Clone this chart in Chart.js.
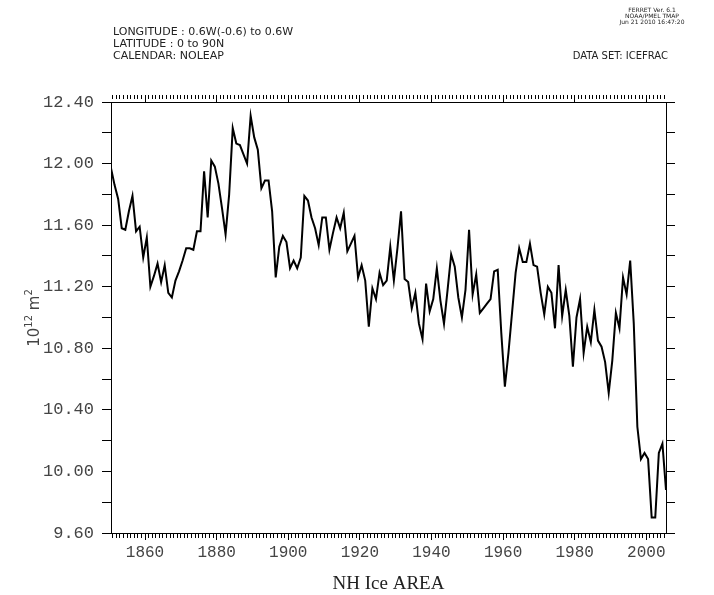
<!DOCTYPE html>
<html><head><meta charset="utf-8">
<script src="https://cdn.jsdelivr.net/npm/chart.js@4.4.0/dist/chart.umd.min.js"></script>
<style>html,body{margin:0;padding:0;background:#fff;}#wrap{width:714px;height:595px;}</style>
</head><body><div id="wrap"><canvas id="c" width="714" height="595"></canvas></div>
<script>
const years = [
1850,1851,1852,1853,1854,1855,1856,1857,1858,1859,
1860,1861,1862,1863,1864,1865,1866,1867,1868,1869,
1870,1871,1872,1873,1874,1875,1876,1877,1878,1879,
1880,1881,1882,1883,1884,1885,1886,1887,1888,1889,
1890,1891,1892,1893,1894,1895,1896,1897,1898,1899,
1900,1901,1902,1903,1904,1905,1906,1907,1908,1909,
1910,1911,1912,1913,1914,1915,1916,1917,1918,1919,
1920,1921,1922,1923,1924,1925,1926,1927,1928,1929,
1930,1931,1932,1933,1934,1935,1936,1937,1938,1939,
1940,1941,1942,1943,1944,1945,1946,1947,1948,1949,
1950,1951,1952,1953,1954,1955,1956,1957,1958,1959,
1960,1961,1962,1963,1964,1965,1966,1967,1968,1969,
1970,1971,1972,1973,1974,1975,1976,1977,1978,1979,
1980,1981,1982,1983,1984,1985,1986,1987,1988,1989,
1990,1991,1992,1993,1994,1995,1996,1997,1998,1999,
2000,2001,2002,2003,2004,2005];
const iceArea = [
11.97,11.86,11.77,11.58,11.57,11.69,11.79,11.56,11.59,11.39,
11.52,11.20,11.27,11.35,11.23,11.34,11.16,11.13,11.24,11.30,
11.37,11.45,11.45,11.44,11.56,11.56,11.95,11.65,12.02,11.98,
11.87,11.71,11.54,11.80,12.23,12.13,12.12,12.06,12.00,12.31,
12.17,12.09,11.84,11.89,11.89,11.69,11.26,11.46,11.53,11.49,
11.32,11.37,11.32,11.39,11.79,11.76,11.65,11.58,11.47,11.65,
11.65,11.44,11.55,11.65,11.58,11.68,11.43,11.48,11.53,11.26,
11.34,11.24,10.94,11.19,11.12,11.29,11.21,11.24,11.46,11.24,
11.45,11.69,11.25,11.23,11.06,11.16,10.96,10.86,11.22,11.04,
11.12,11.32,11.11,10.96,11.18,11.41,11.33,11.13,11.00,11.18,
11.57,11.15,11.28,11.03,11.06,11.09,11.12,11.30,11.31,10.90,
10.55,10.77,11.03,11.29,11.45,11.36,11.36,11.48,11.34,11.33,
11.16,11.02,11.20,11.16,10.93,11.34,11.01,11.18,11.01,10.68,
11.00,11.12,10.77,10.94,10.84,11.05,10.85,10.81,10.71,10.51,
10.72,11.03,10.93,11.26,11.15,11.37,10.96,10.29,10.08,10.12,
10.08,9.70,9.70,10.12,10.18,9.88];
const xTickLabels = ['1860','1880','1900','1920','1940','1960','1980','2000'];
const yTickLabels = ['9.60','10.00','10.40','10.80','11.20','11.60','12.00','12.40'];
const headerLeft = ['LONGITUDE : 0.6W(-0.6) to 0.6W','LATITUDE : 0 to 90N','CALENDAR: NOLEAP'];
const headerRight = 'DATA SET: ICEFRAC';
const stamp = ['FERRET Ver. 6.1','NOAA/PMEL TMAP','Jun 21 2010 16:47:20'];
const xTitle = 'NH Ice AREA';

const labelColor = '#444';

const textPlugin = {
  id: 'texts',
  afterDraw(chart) {
    const ctx = chart.ctx;
    ctx.save();
    ctx.fillStyle = '#222';
    ctx.textBaseline = 'alphabetic';
    ctx.font = '11px "DejaVu Sans"';
    ctx.textAlign = 'left';
    headerLeft.forEach((t, i) => ctx.fillText(t, 113, 35 + i * 12));
    ctx.font = '10px "DejaVu Sans"';
    ctx.textAlign = 'right';
    ctx.fillText(headerRight, 668, 59);
    ctx.font = '6px "DejaVu Sans"';
    ctx.textAlign = 'center';
    stamp.forEach((t, i) => ctx.fillText(t, 652, 12 + i * 6));
    // y-axis title 10^12 m^2
    ctx.translate(33, 318);
    ctx.rotate(-Math.PI / 2);
    const parts = [['10', 15, 0], ['12', 10, -7], [' m', 15, 0], ['2', 10, -7]];
    let total = 0;
    parts.forEach(p => { ctx.font = p[1] + 'px "DejaVu Sans"'; total += ctx.measureText(p[0]).width; });
    let x = -total / 2;
    ctx.textAlign = 'left';
    ctx.fillStyle = labelColor;
    parts.forEach(p => {
      ctx.font = p[1] + 'px "DejaVu Sans"';
      ctx.fillText(p[0], x, 6 + p[2]);
      x += ctx.measureText(p[0]).width;
    });
    ctx.restore();
  }
};

const xVals = years.map(y => y + 0.5);
const gridCommon = {drawOnChartArea: false, drawTicks: true, tickColor: '#000', tickWidth: 1, color: '#000'};
const xMinorDash = c => (c.tick && c.tick.value % 20 === 0) ? [] : [4, 30];
const yearTicks = s => { s.ticks = years.filter(y => y >= s.min && y <= s.max).map(y => ({value: y})); };

new Chart(document.getElementById('c'), {
  type: 'line',
  data: {
    datasets: [{
      data: xVals.map((x, i) => ({x: x, y: iceArea[i]})),
      borderColor: '#000', borderWidth: 2, pointRadius: 0, tension: 0, fill: false,
      xAxisID: 'x', yAxisID: 'y'
    }]
  },
  options: {
    responsive: false, animation: false, devicePixelRatio: 1,
    layout: {padding: 0},
    plugins: {legend: {display: false}, tooltip: {enabled: false}},
    scales: {
      x: {
        type: 'linear', position: 'bottom', min: 1850.5, max: 2005.5,
        border: {display: true, color: '#000', width: 1},
        grid: Object.assign({}, gridCommon, {tickLength: 7, tickBorderDash: xMinorDash}),
        afterBuildTicks: yearTicks,
        ticks: {autoSkip: false, maxRotation: 0, minRotation: 0,
          font: {family: 'Liberation Mono', size: 16}, color: labelColor, padding: 3,
          callback: v => xTickLabels.includes(String(v)) ? String(v) : ''},
        title: {display: true, text: xTitle, color: '#222', font: {family: 'Liberation Serif', size: 19}, padding: {top: 4, bottom: 0}},
        afterFit: s => { s.height = 62; }
      },
      x2: {
        type: 'linear', position: 'top', min: 1850.5, max: 2005.5,
        border: {display: true, color: '#000', width: 1},
        grid: Object.assign({}, gridCommon, {tickLength: 7, tickBorderDash: xMinorDash}),
        afterBuildTicks: yearTicks,
        ticks: {autoSkip: false, display: false},
        afterFit: s => { s.height = 102; }
      },
      y: {
        type: 'linear', position: 'left', min: 9.6, max: 12.4,
        border: {display: true, color: '#000', width: 1},
        grid: Object.assign({}, gridCommon, {tickLength: 9}),
        ticks: {stepSize: 0.2, includeBounds: false, font: {family: 'Liberation Mono', size: 17}, color: labelColor, padding: 8,
          callback: v => { const s = Number(v).toFixed(2); return yTickLabels.includes(s) ? s : ''; }},
        afterFit: s => { s.width = 111; }
      },
      y2: {
        type: 'linear', position: 'right', min: 9.6, max: 12.4,
        border: {display: true, color: '#000', width: 1},
        grid: Object.assign({}, gridCommon, {tickLength: 9}),
        ticks: {stepSize: 0.2, includeBounds: false, display: false},
        afterFit: s => { s.width = 48; }
      }
    }
  },
  plugins: [textPlugin]
});
</script></body></html>
